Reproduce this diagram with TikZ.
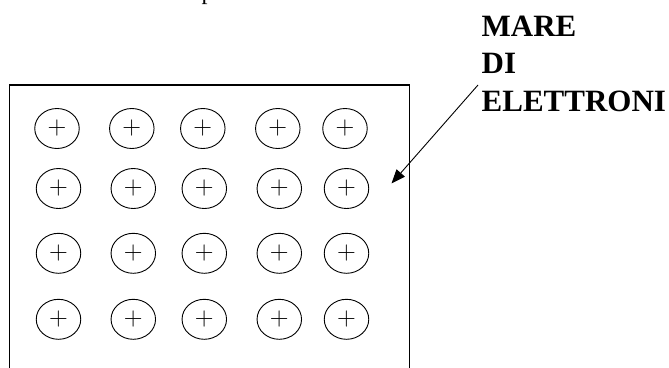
\documentclass[tikz,border=0pt]{standalone}
\usepackage{fontspec}
\newfontfamily\labfont{Liberation Serif}
\usetikzlibrary{shapes.geometric,arrows.meta}
\begin{document}
\begin{tikzpicture}[x=1pt,y=-1pt,
  ion/.style={draw,line width=0.9pt,ellipse,minimum width=44.5pt,minimum height=40pt,inner sep=0pt,
    font=\fontsize{26}{26}\selectfont},
  lab/.style={font=\labfont\bfseries\fontsize{31}{37}\selectfont,inner sep=0pt,anchor=base west},
  box/.style={line width=1.6pt},
  pointer/.style={line width=0.9pt,-{Triangle[length=14pt,width=11pt]}}]
\useasboundingbox (0,0) rectangle (669,367);
% cut-off text at the top
\node[font=\labfont\fontsize{24}{24}\selectfont,inner sep=0pt,anchor=base west] (top) at (201.5,-0.8) {p};
% metal block
\draw[box] (9.5,380) -- (9.5,85) -- (409.5,85) -- (409.5,380);
% positive ions
\foreach \r/\y/\s in {1/128.5/-1.5,2/188.5/0,3/253.3/0,4/319.3/0}{
  \foreach \c/\x in {1/58.5,2/133.3,3/204.3,4/279.3,5/346.5}{
    \node[ion] (i\r\c) at (\x+\s,\y) {+};
  }
}
% label
\node[lab] (l1) at (481.5,36) {MARE};
\node[lab] (l2) at (481.5,73.5) {DI};
\node[lab] (l3) at (481.5,111) {ELETTRONI};
\coordinate (from) at (478,85);
\coordinate (to) at (391.5,183.5);
\draw[pointer] (from) -- (to);
\end{tikzpicture}
\end{document}
